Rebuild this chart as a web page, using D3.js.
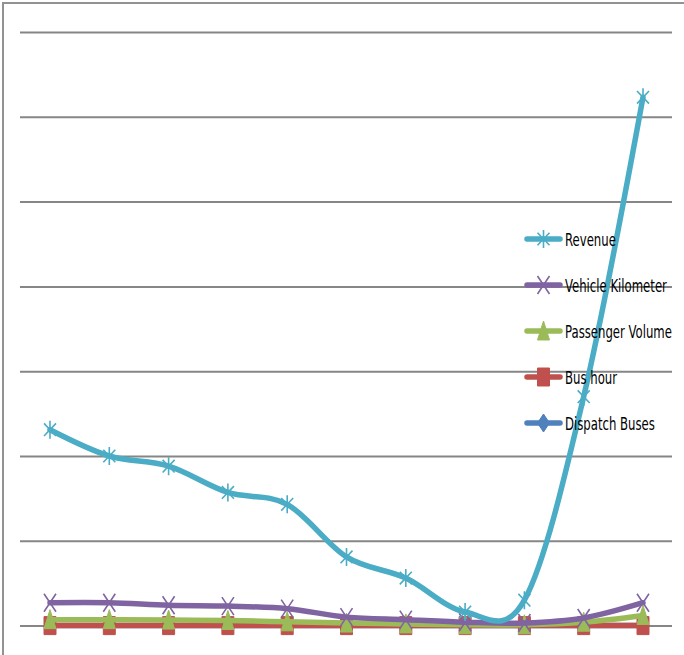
<!DOCTYPE html>
<html>
<head>
<meta charset="utf-8">
<script src="https://cdn.jsdelivr.net/npm/d3@7"></script>
<style>
  body { margin: 0; background: #fff; }
  svg { display: block; }
</style>
</head>
<body>
<script>
// values, one gridline = 1 unit
var categories = [1, 2, 3, 4, 5, 6, 7, 8, 9, 10, 11];
var revenue       = [2.31, 2.00, 1.88, 1.57, 1.43, 0.81, 0.56, 0.16, 0.30, 2.70, 6.23];
var vehicleKm     = [0.27, 0.27, 0.24, 0.23, 0.20, 0.10, 0.07, 0.04, 0.03, 0.09, 0.27];
var passengerVol  = [0.07, 0.07, 0.065, 0.06, 0.045, 0.03, 0.02, 0.01, 0.01, 0.04, 0.12];
var busHour       = [0, 0, 0, 0, 0, 0, 0, 0, 0, 0, 0];
var dispatchBuses = [0, 0, 0, 0, 0, 0, 0, 0, 0, 0, 0];
var seriesNames = ["Revenue", "Vehicle Kilometer", "Passenger Volume", "Bus hour", "Dispatch Buses"];

var width = 684, height = 655;

var series = [
  { name: seriesNames[0], values: revenue,       color: "#4bacc6", marker: "star" },
  { name: seriesNames[1], values: vehicleKm,     color: "#8064a2", marker: "x" },
  { name: seriesNames[2], values: passengerVol,  color: "#9bbb59", marker: "tri" },
  { name: seriesNames[3], values: busHour,       color: "#c0504d", marker: "square" },
  { name: seriesNames[4], values: dispatchBuses, color: "#4f81bd", marker: "diamond" }
];

var xScale = d3.scalePoint()
  .domain(categories)
  .range([50, 643]);

var yScale = d3.scaleLinear()
  .domain([0, 7])
  .range([625.6, 32]);

var svg = d3.select("body").append("svg")
  .attr("width", width)
  .attr("height", height);

// frame (top + left edges)
svg.append("path")
  .attr("d", "M3,655V3H684")
  .attr("fill", "none")
  .attr("stroke", "#929292")
  .attr("stroke-width", 2);

// gridlines
var grid = svg.append("g")
  .attr("transform", "translate(20,0)")
  .call(d3.axisLeft(yScale).ticks(7).tickSize(-652).tickFormat(""));
grid.select(".domain").remove();
grid.selectAll(".tick line")
  .attr("stroke", "#868686")
  .attr("stroke-width", 2);

// marker shapes (tall, as in the picture)
function markerPath(type) {
  var w = 6, h = 9;
  if (type == "star") return "M0," + (-h) + "V" + h + "M" + (-w) + "," + (-h * 0.7) + "L" + w + "," + (h * 0.7) + "M" + (-w) + "," + (h * 0.7) + "L" + w + "," + (-h * 0.7);
  if (type == "x") return "M" + (-w) + "," + (-h) + "L" + w + "," + h + "M" + (-w) + "," + h + "L" + w + "," + (-h);
  if (type == "tri") return "M0," + (-h - 1) + "L" + w + "," + h + "L" + (-w) + "," + h + "Z";
  if (type == "square") return "M" + (-w) + "," + (-h) + "H" + w + "V" + h + "H" + (-w) + "Z";
  return "M0," + (-h) + "L" + w + ",0L0," + h + "L" + (-w) + ",0Z";
}
function isOpen(type) { return type == "star" || type == "x"; }

var line = d3.line()
  .x(function(d, i) { return xScale(categories[i]); })
  .y(function(d) { return yScale(d); })
  .curve(d3.curveCatmullRom.alpha(0));

// draw bottom series first so Revenue ends on top
series.slice().reverse().forEach(function(s) {
  var g = svg.append("g");
  g.append("path")
    .attr("d", line(s.values))
    .attr("fill", "none")
    .attr("stroke", s.color)
    .attr("stroke-width", 5.5)
    .attr("stroke-linejoin", "round")
    .attr("stroke-linecap", "round");
  g.selectAll(".mk")
    .data(s.values)
    .enter().append("path")
    .attr("class", "mk")
    .attr("transform", function(d, i) { return "translate(" + xScale(categories[i]) + "," + yScale(d) + ")"; })
    .attr("d", markerPath(s.marker))
    .attr("fill", isOpen(s.marker) ? "none" : s.color)
    .attr("stroke", s.color)
    .attr("stroke-width", isOpen(s.marker) ? 1.6 : 1);
});

// legend
var legend = svg.append("g")
  .attr("transform", "translate(527,239)");
var item = legend.selectAll(".item")
  .data(series)
  .enter().append("g")
  .attr("class", "item")
  .attr("transform", function(d, i) { return "translate(0," + (i * 46) + ")"; });
item.append("line")
  .attr("x1", 0).attr("x2", 33)
  .attr("stroke", function(d) { return d.color; })
  .attr("stroke-width", 5.5)
  .attr("stroke-linecap", "round");
item.append("path")
  .attr("transform", "translate(16.5,0)")
  .attr("d", function(d) { return markerPath(d.marker); })
  .attr("fill", function(d) { return isOpen(d.marker) ? "none" : d.color; })
  .attr("stroke", function(d) { return d.color; })
  .attr("stroke-width", function(d) { return isOpen(d.marker) ? 1.6 : 1; });
var labels = item.append("text")
  .attr("x", 0)
  .attr("y", 6.5)
  .style("font-family", "'Liberation Sans Narrow', 'DejaVu Sans Condensed', 'DejaVu Sans', sans-serif")
  .style("font-size", "17px")
  .style("fill", "#000")
  .text(function(d) { return d.name; });

// the picture uses a narrow face: squeeze labels so the longest one is ~107px
var longest = d3.max(labels.nodes(), function(n) { return n.getComputedTextLength(); });
var squeeze = Math.min(1, 107 / longest);
labels.attr("transform", "translate(38,0) scale(" + squeeze + ",1)");
</script>
</body>
</html>
